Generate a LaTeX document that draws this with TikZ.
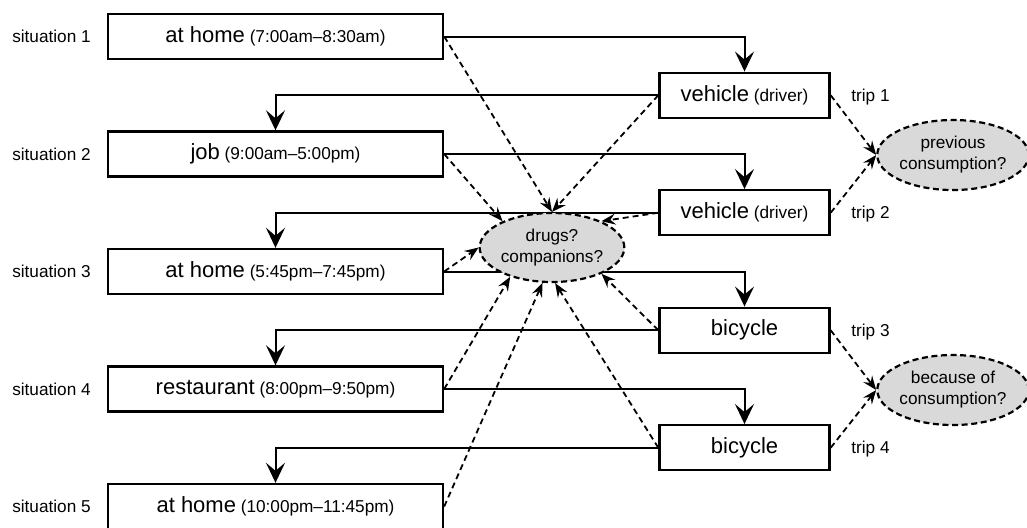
\documentclass[tikz,border=0pt]{standalone}
\usepackage{fontspec}
\setmainfont{Liberation Sans}
\usetikzlibrary{shapes.geometric,arrows.meta}
\pgfdeclarelayer{background}
\pgfsetlayers{background,main}
\definecolor{qgray}{RGB}{217,217,217}
\newcommand{\bigfont}{\fontsize{11}{13}\selectfont}
\newcommand{\smallfont}{\fontsize{8.6}{10.5}\selectfont}
\tikzset{
  sit/.style={draw, line width=1.2pt, minimum width=167.5pt, minimum height=22.5pt, inner sep=0pt, font=\smallfont},
  leg/.style={draw, line width=1.2pt, minimum width=85pt, minimum height=22.5pt, inner sep=0pt, font=\smallfont},
  query/.style={ellipse, draw, line width=1.1pt, dash pattern=on 3pt off 1.8pt, fill=qgray, inner sep=0pt, align=center, font=\smallfont},
  lbl/.style={inner sep=0pt, font=\smallfont},
  flow/.style={line width=1pt, -{Stealth[length=10pt,width=9.5pt,inset=4pt]}},
  link/.style={line width=0.9pt, dash pattern=on 3pt off 2pt, -{Stealth[length=7pt,width=5.5pt,inset=2.5pt]}}
}
\begin{document}
\begin{tikzpicture}[x=0.5pt,y=-0.5pt]
        \useasboundingbox (0,0) rectangle (1027,527);
        \foreach \i/\place/\time in {1/at home/7:00am–8:30am,2/job/9:00am–5:00pm,3/at home/5:45pm–7:45pm,4/restaurant/8:00pm–9:50pm,5/at home/10:00pm–11:45pm}{
        \node[sit] (s\i) at (275.5,{36.5+117.5*(\i-1)}) {{\bigfont \place} (\time)};
        \node[lbl] (l\i) at (51.5,{36.5+117.5*(\i-1)}) {situation \i};
        }
        \foreach \k/\mode in {1/{{\bigfont vehicle} (driver)},2/{{\bigfont vehicle} (driver)},3/{\bigfont bicycle},4/{\bigfont bicycle}}{
        \node[leg] (v\k) at (744.5,{95.25+117.5*(\k-1)}) {\mode};
        \node[lbl,anchor=west] (t\k) at (851,{97+117.5*(\k-1)}) {trip \k};
        }
        \node[query,minimum width=70pt,minimum height=34.5pt] (drugs) at (552,247.5) {drugs?\\companions?};
        \node[query,minimum width=73pt,minimum height=35pt] (prev) at (953,155) {previous\\consumption?};
        \node[query,minimum width=73pt,minimum height=35pt] (cause) at (953,390) {because of\\consumption?};
        \begin{pgfonlayer}{background}
        \foreach \k in {1,...,4}{
        \pgfmathtruncatemacro\j{\k+1}
        \draw[flow] (s\k.east) -| (v\k.north);
        \draw[flow] (v\k.west) -| (s\j.north);
        }
        \end{pgfonlayer}
        \foreach \a/\b in {s1.east/90,v1.west/90,s2.east/152,v2.west/28,s3.east/180,v3.west/332,s4.east/215,v4.west/275,s5.east/255}
        \draw[link] (\a) -- (drugs.\b);
        \foreach \k/\q in {1/prev,2/prev,3/cause,4/cause}
        \draw[link] (v\k.east) -- (\q.west);
    \end{tikzpicture}
\end{document}
